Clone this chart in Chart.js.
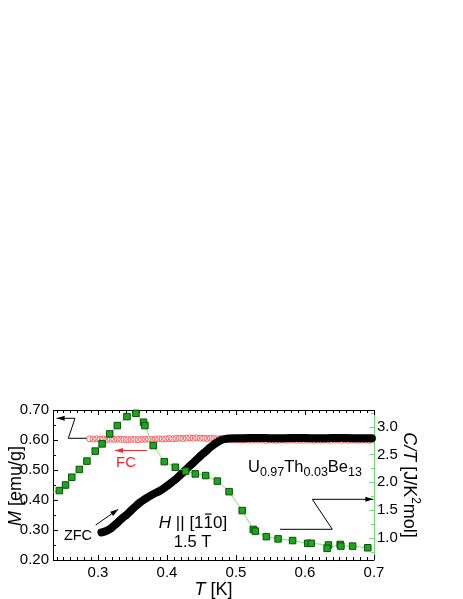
<!DOCTYPE html>
<html>
<head>
<meta charset="utf-8">
<script src="https://cdn.jsdelivr.net/npm/chart.js@4.4.1/dist/chart.umd.min.js"></script>
<style>
  html, body { margin: 0; padding: 0; background: #fff; }
  #wrap { position: relative; width: 463px; height: 599px; }
</style>
</head>
<body>
<div id="wrap"><canvas id="chart"></canvas></div>
<script>
// C/T (right axis) - green squares
const ctT = [0.225, 0.244, 0.253, 0.262, 0.273, 0.284, 0.296, 0.306, 0.317, 0.328,
             0.342, 0.355, 0.366, 0.368, 0.380, 0.396, 0.412, 0.427, 0.441, 0.456,
             0.473, 0.490, 0.509, 0.525, 0.528, 0.544, 0.561, 0.582, 0.604, 0.609,
             0.634, 0.632, 0.651, 0.652, 0.669, 0.691];
const ctVal = [1.79, 1.85, 1.95, 2.09, 2.23, 2.38, 2.56, 2.69, 2.87, 3.02,
               3.18, 3.24, 3.08, 3.02, 2.66, 2.37, 2.27, 2.20, 2.15, 2.12,
               2.02, 1.83, 1.49, 1.15, 1.12, 1.02, 0.98, 0.95, 0.90, 0.90,
               0.87, 0.81, 0.88, 0.85, 0.85, 0.82];

// ZFC magnetisation - black
const zfcT = [0.305, 0.311, 0.317, 0.323, 0.329, 0.335, 0.342, 0.348, 0.354, 0.360,
              0.366, 0.372, 0.378, 0.384, 0.390, 0.396, 0.402, 0.408, 0.414, 0.420,
              0.426, 0.432, 0.438, 0.444, 0.450, 0.456, 0.462, 0.468, 0.474, 0.479,
              0.484, 0.490, 0.499, 0.51, 0.53, 0.55, 0.57, 0.59, 0.61, 0.63,
              0.65, 0.67, 0.69, 0.697];
const zfcM = [0.292, 0.296, 0.303, 0.314, 0.326, 0.339, 0.352, 0.365, 0.378, 0.390,
              0.400, 0.409, 0.417, 0.424, 0.431, 0.440, 0.450, 0.461, 0.472, 0.485,
              0.498, 0.511, 0.524, 0.537, 0.550, 0.562, 0.574, 0.585, 0.594, 0.600,
              0.603, 0.605, 0.606, 0.606, 0.607, 0.606, 0.606, 0.607, 0.606, 0.606,
              0.607, 0.606, 0.606, 0.606];

// FC magnetisation - red open circles
const fcT = [0.288, 0.293, 0.298, 0.303, 0.308, 0.313, 0.318, 0.323, 0.328, 0.333,
             0.338, 0.343, 0.348, 0.353, 0.358, 0.363, 0.368, 0.373, 0.378, 0.383,
             0.388, 0.393, 0.398, 0.403, 0.408, 0.413, 0.418, 0.423, 0.428, 0.433,
             0.438, 0.443, 0.448, 0.453, 0.458, 0.463, 0.468, 0.473, 0.478, 0.483,
             0.488, 0.493, 0.498, 0.503, 0.508, 0.513, 0.518, 0.523, 0.528, 0.533,
             0.538, 0.543, 0.548, 0.553, 0.558, 0.563, 0.568, 0.573, 0.578, 0.583,
             0.588, 0.593, 0.598, 0.603, 0.608, 0.613, 0.618, 0.623, 0.628, 0.633,
             0.638, 0.643, 0.648, 0.653, 0.658, 0.663, 0.668, 0.673, 0.678, 0.683,
             0.688, 0.693, 0.698];
const fcM = [0.604, 0.603, 0.604, 0.603, 0.603, 0.602, 0.603, 0.602, 0.603, 0.602,
             0.602, 0.601, 0.602, 0.602, 0.601, 0.602, 0.602, 0.603, 0.602, 0.603,
             0.604, 0.603, 0.604, 0.605, 0.604, 0.605, 0.606, 0.605, 0.606, 0.607,
             0.606, 0.607, 0.606, 0.606, 0.605, 0.606, 0.605, 0.604, 0.605, 0.604,
             0.603, 0.602, 0.601, 0.601, 0.600, 0.601, 0.600, 0.600, 0.601, 0.600,
             0.600, 0.599, 0.600, 0.600, 0.599, 0.600, 0.600, 0.599, 0.600, 0.600,
             0.599, 0.600, 0.599, 0.600, 0.600, 0.599, 0.600, 0.599, 0.600, 0.600,
             0.599, 0.600, 0.600, 0.599, 0.600, 0.599, 0.600, 0.600, 0.599, 0.600,
             0.600, 0.599, 0.600];

// tick labels
const xTicks = [0.3, 0.4, 0.5, 0.6, 0.7];
const mTicks = [0.2, 0.3, 0.4, 0.5, 0.6, 0.7];
const ctTicks = [1.0, 1.5, 2.0, 2.5, 3.0];

const FONT = '"Liberation Sans", Arial, sans-serif';
const GREEN_AXIS = '#6fdc6f';

function pairs(xs, ys) {
    return xs.map((x, i) => ({ x: x, y: ys[i] }));
}

function setTicks(list) {
    return function(scale) {
        scale.ticks = list.map(v => ({ value: v }));
    };
}

function arrow(ctx, pts, color) {
    ctx.save();
    ctx.strokeStyle = color;
    ctx.fillStyle = color;
    ctx.lineWidth = 1;
    ctx.beginPath();
    pts.forEach((p, i) => i ? ctx.lineTo(p[0], p[1]) : ctx.moveTo(p[0], p[1]));
    ctx.stroke();
    const a = pts[pts.length - 2], b = pts[pts.length - 1];
    const ang = Math.atan2(b[1] - a[1], b[0] - a[0]);
    const L = 8, W = 2.5;
    ctx.beginPath();
    ctx.moveTo(b[0], b[1]);
    ctx.lineTo(b[0] - L * Math.cos(ang) + W * Math.sin(ang), b[1] - L * Math.sin(ang) - W * Math.cos(ang));
    ctx.lineTo(b[0] - L * Math.cos(ang) - W * Math.sin(ang), b[1] - L * Math.sin(ang) + W * Math.cos(ang));
    ctx.closePath();
    ctx.fill();
    ctx.restore();
}

// draw runs of text with different fonts on one baseline
function drawRuns(ctx, runs, x, y, align) {
    let w = 0;
    runs.forEach(r => { ctx.font = r.font; w += ctx.measureText(r.t).width; });
    let cx = align === 'center' ? x - w / 2 : x;
    const pos = [];
    runs.forEach(r => {
        ctx.font = r.font;
        ctx.fillText(r.t, cx, y + (r.dy || 0));
        const rw = ctx.measureText(r.t).width;
        pos.push([cx, rw]);
        cx += rw;
    });
    return pos;
}

const framePlugin = {
    id: 'frame',
    beforeDatasetsDraw(chart) {
        const ctx = chart.ctx, a = chart.chartArea;
        const sx = chart.scales.x, sy = chart.scales.y, sy2 = chart.scales.y2;
        ctx.save();
        ctx.lineWidth = 1;
        // top border
        ctx.strokeStyle = '#000';
        ctx.beginPath();
        ctx.moveTo(a.left, a.top + 0.5);
        ctx.lineTo(a.right, a.top + 0.5);
        // T ticks, bottom and top
        for (let i = 24; i <= 70; i++) {
            const X = Math.round(sx.getPixelForValue(i / 100)) + 0.5;
            const len = i % 10 === 0 ? 5 : 3;
            ctx.moveTo(X, a.bottom);
            ctx.lineTo(X, a.bottom - len);
            ctx.moveTo(X, a.top);
            ctx.lineTo(X, a.top + len);
        }
        // M ticks, left
        for (let i = 4; i <= 14; i++) {
            const Y = Math.round(sy.getPixelForValue(i * 0.05)) + 0.5;
            const len = i % 2 === 0 ? 5 : 3;
            ctx.moveTo(a.left, Y);
            ctx.lineTo(a.left + len, Y);
        }
        ctx.stroke();
        // C/T ticks, right (green)
        ctx.strokeStyle = GREEN_AXIS;
        ctx.beginPath();
        for (let i = 3; i <= 13; i++) {
            const Y = Math.round(sy2.getPixelForValue(i * 0.25)) + 0.5;
            const len = i % 2 === 0 ? 5 : 3;
            ctx.moveTo(a.right, Y);
            ctx.lineTo(a.right - len, Y);
        }
        ctx.stroke();
        ctx.restore();
    },
    afterDatasetsDraw(chart) {
        const ctx = chart.ctx, a = chart.chartArea;
        const sx = chart.scales.x, sy = chart.scales.y, sy2 = chart.scales.y2;
        const P = (t, m) => [sx.getPixelForValue(t), sy.getPixelForValue(m)];
        const P2 = (t, c) => [sx.getPixelForValue(t), sy2.getPixelForValue(c)];

        // arrows
        arrow(ctx, [P(0.2836, 0.6057), P(0.2570, 0.6057), P(0.2667, 0.6723), P(0.2401, 0.6723)], '#000');
        arrow(ctx, [P2(0.5638, 1.1526), P2(0.6396, 1.1526), P2(0.6106, 1.6925), P2(0.699, 1.6925)], '#000');
        arrow(ctx, [P(0.2967, 0.3167), P(0.3294, 0.369)], '#000');
        arrow(ctx, [P(0.3706, 0.565), P(0.3246, 0.565)], '#ee2a2a');

        ctx.save();
        ctx.textBaseline = 'alphabetic';
        ctx.textAlign = 'left';

        // FC / ZFC labels
        ctx.fillStyle = '#ee2a2a';
        let p = P(0.3406, 0.5267);
        drawRuns(ctx, [{ t: 'FC', font: '15px ' + FONT }], p[0], p[1] + 5.5, 'center');
        ctx.fillStyle = '#000';
        p = P(0.271, 0.2833);
        drawRuns(ctx, [{ t: 'ZFC', font: '14.5px ' + FONT }], p[0], p[1] + 5, 'center');

        // field direction
        p = P(0.4377, 0.3067);
        const pos = drawRuns(ctx, [
            { t: 'H', font: 'italic 17px ' + FONT },
            { t: ' || [1', font: '17px ' + FONT },
            { t: '1', font: '17px ' + FONT },
            { t: '0]', font: '17px ' + FONT }
        ], p[0], p[1], 'center');
        ctx.fillRect(pos[2][0] + 1.5, p[1] - 14.5, pos[2][1] - 3, 1.2);
        p = P(0.437, 0.2443);
        drawRuns(ctx, [{ t: '1.5 T', font: '16.5px ' + FONT }], p[0], p[1], 'center');

        // compound
        p = P(0.5174, 0.4933);
        const big = '16.5px ' + FONT, sub = '12.5px ' + FONT;
        drawRuns(ctx, [
            { t: 'U', font: big }, { t: '0.97', font: sub, dy: 4 },
            { t: 'Th', font: big }, { t: '0.03', font: sub, dy: 4 },
            { t: 'Be', font: big }, { t: '13', font: sub, dy: 4 }
        ], p[0], p[1], 'left');

        // axis titles
        const title = '18px ' + FONT, titleI = 'italic 18px ' + FONT;
        drawRuns(ctx, [{ t: 'T', font: titleI }, { t: ' [K]', font: title }],
            (a.left + a.right) / 2, 595, 'center');

        ctx.save();
        ctx.translate(14, (a.top + a.bottom) / 2 + 1);
        ctx.rotate(-Math.PI / 2);
        drawRuns(ctx, [{ t: 'M', font: titleI }, { t: ' [emu/g]', font: title }], 0, 6.5, 'center');
        ctx.restore();

        ctx.save();
        ctx.translate(410, (a.top + a.bottom) / 2);
        ctx.rotate(Math.PI / 2);
        drawRuns(ctx, [
            { t: 'C/T', font: titleI },
            { t: ' [J/K', font: title },
            { t: '2', font: '12px ' + FONT, dy: -8 },
            { t: 'mol]', font: title }
        ], 0, 6, 'center');
        ctx.restore();

        ctx.restore();
    }
};

document.addEventListener("DOMContentLoaded", function() {
    const ctx = document.getElementById('chart').getContext('2d');
    new Chart(ctx, {
        type: 'scatter',
        data: {
            datasets: [{
                label: 'C/T',
                data: pairs(ctT, ctVal),
                yAxisID: 'y2',
                showLine: true,
                borderColor: '#80df80',
                borderWidth: 1,
                pointStyle: 'rect',
                pointRadius: 4.6,
                pointBackgroundColor: '#1ca61c',
                pointBorderColor: '#0b4f0b',
                pointBorderWidth: 1,
                clip: { left: 0, top: 6, right: 6, bottom: 0 },
                order: 0
            }, {
                label: 'ZFC',
                data: pairs(zfcT, zfcM),
                yAxisID: 'y',
                showLine: true,
                borderColor: '#000',
                borderWidth: 8,
                borderCapStyle: 'round',
                borderJoinStyle: 'round',
                cubicInterpolationMode: 'monotone',
                pointRadius: 0,
                clip: false,
                order: 1
            }, {
                label: 'FC',
                data: pairs(fcT, fcM),
                yAxisID: 'y',
                showLine: false,
                pointStyle: 'circle',
                pointRadius: 3,
                pointBorderColor: '#f26464',
                pointBackgroundColor: 'rgba(255,255,255,0)',
                pointBorderWidth: 1,
                order: 2
            }]
        },
        options: {
            responsive: true,
            maintainAspectRatio: false,
            animation: false,
            events: [],
            layout: { padding: { top: 410, left: 0, right: 0, bottom: 0 } },
            plugins: { legend: { display: false }, tooltip: { enabled: false } },
            scales: {
                x: {
                    type: 'linear',
                    position: 'bottom',
                    min: 0.2348,
                    max: 0.7,
                    afterBuildTicks: setTicks(xTicks),
                    afterFit: function(s) { s.height = 39; },
                    grid: { display: false, drawTicks: false },
                    border: { display: true, color: '#000', width: 1 },
                    ticks: {
                        padding: 4,
                        color: '#000',
                        font: { family: FONT, size: 15 },
                        callback: v => v.toFixed(1)
                    }
                },
                y: {
                    type: 'linear',
                    position: 'left',
                    min: 0.2,
                    max: 0.7,
                    afterBuildTicks: setTicks(mTicks),
                    afterFit: function(s) { s.width = 53; },
                    grid: { display: false, drawTicks: false },
                    border: { display: true, color: '#000', width: 1 },
                    ticks: {
                        padding: 4,
                        color: '#000',
                        font: { family: FONT, size: 15 },
                        callback: v => v.toFixed(2)
                    }
                },
                y2: {
                    type: 'linear',
                    position: 'right',
                    min: 0.6,
                    max: 3.3,
                    afterBuildTicks: setTicks(ctTicks),
                    afterFit: function(s) { s.width = 89; },
                    grid: { display: false, drawTicks: false },
                    border: { display: true, color: GREEN_AXIS, width: 1 },
                    ticks: {
                        padding: 3,
                        color: '#000',
                        font: { family: FONT, size: 15 },
                        callback: v => v.toFixed(1)
                    }
                }
            }
        },
        plugins: [framePlugin]
    });
});
</script>
</body>
</html>
